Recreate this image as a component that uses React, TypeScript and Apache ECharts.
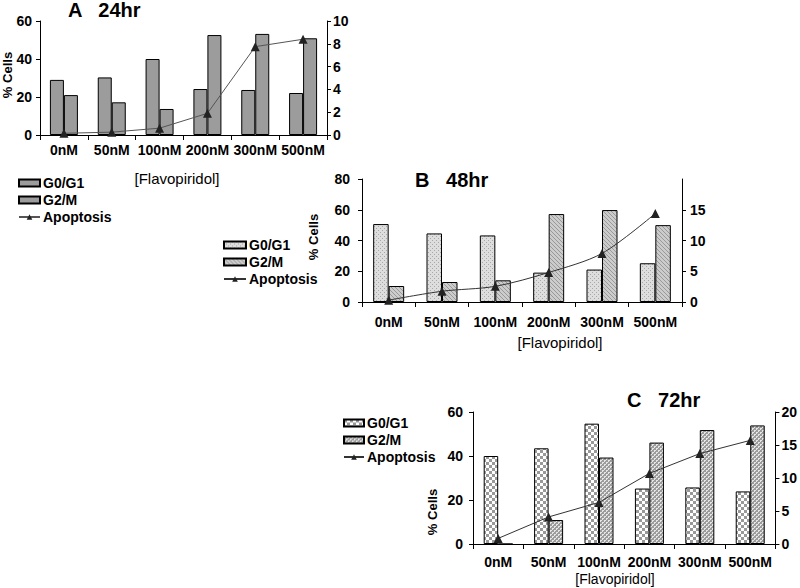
import React, { useEffect, useRef } from "react";
import * as echarts from "echarts";

const categories = ["0nM", "50nM", "100nM", "200nM", "300nM", "500nM"];

const aG0G1 = [29, 30.3, 40, 24.2, 23.7, 22.1];
const aG2M = [21, 17.2, 13.7, 52.6, 53.2, 50.9];
const aApoptosis = [0.15, 0.25, 0.6, 1.9, 7.75, 8.4];

const bG0G1 = [50.7, 44.6, 43.3, 19.1, 21.1, 25.2];
const bG2M = [10.4, 13, 14.1, 57.2, 59.8, 50];
const bApoptosis = [0.3, 1.75, 2.55, 4.8, 7.9, 14.4];

const cG0G1 = [40, 43.5, 54.7, 25.2, 25.7, 23.9];
const cG2M = [0, 10.9, 39.3, 46.1, 51.8, 53.9];
const cApoptosis = [0.85, 4.1, 6.3, 10.7, 13.7, 15.7];

const leftMax = [60, 80, 60];
const rightMax = [10, 20, 20];
const rightInterval = [2, 5, 5];
const leftInterval = 20;

const titles = ["A   24hr", "B   48hr", "C   72hr"];
const yName = "% Cells";
const xName = "[Flavopiridol]";

const FONT = "'Liberation Sans', Arial, sans-serif";

function makePattern(w: number, h: number, draw: (ctx: CanvasRenderingContext2D) => void) {
  const c = document.createElement("canvas");
  c.width = w;
  c.height = h;
  const ctx = c.getContext("2d") as CanvasRenderingContext2D;
  draw(ctx);
  return { image: c, repeat: "repeat", imageWidth: w, imageHeight: h } as any;
}

function px(ctx: CanvasRenderingContext2D, color: string, pts: number[][]) {
  ctx.fillStyle = color;
  pts.forEach(([x, y]) => ctx.fillRect(x, y, 1, 1));
}

export default function App() {
  const ref = useRef<HTMLDivElement>(null);

  useEffect(() => {
    if (!ref.current) return;
    const chart = echarts.init(ref.current, null, { renderer: "svg" });

    const bDots = makePattern(4, 4, (ctx) => {
      ctx.fillStyle = "#dedede";
      ctx.fillRect(0, 0, 4, 4);
      px(ctx, "#a8a8a8", [[0, 0], [2, 2]]);
    });
    const bDiag = makePattern(4, 4, (ctx) => {
      ctx.fillStyle = "#cccccc";
      ctx.fillRect(0, 0, 4, 4);
      px(ctx, "#999999", [[0, 0], [1, 1], [2, 2], [3, 3]]);
    });
    const cChecker = makePattern(6, 6, (ctx) => {
      ctx.fillStyle = "#ffffff";
      ctx.fillRect(0, 0, 6, 6);
      ctx.fillStyle = "#999999";
      ctx.fillRect(0, 0, 3, 3);
      ctx.fillRect(3, 3, 3, 3);
    });
    const cDots = makePattern(4, 4, (ctx) => {
      ctx.fillStyle = "#9c9c9c";
      ctx.fillRect(0, 0, 4, 4);
      px(ctx, "#e6e6e6", [[0, 0], [1, 0], [0, 1], [2, 2], [3, 2], [2, 3]]);
    });

    const grids = [
      { left: 40, top: 21, width: 287, height: 114 },
      { left: 362, top: 179, width: 320, height: 123 },
      { left: 473, top: 412, width: 303, height: 132 },
    ];
    const xLabelMargin = [8, 13, 11];
    const yLeftMargin = [8, 12, 10];
    const yRightMargin = [6, 8, 6];
    const barWidths = [14, 15.5, 14.5];
    const prefixes = ["A:", "B:", "C:"];
    const g0Data = [aG0G1, bG0G1, cG0G1];
    const g2Data = [aG2M, bG2M, cG2M];
    const apData = [aApoptosis, bApoptosis, cApoptosis];
    const g0Color: any[] = ["#9c9c9c", bDots, cChecker];
    const g2Color: any[] = ["#9c9c9c", bDiag, cDots];
    const lineColor = ["#555555", "#333333", "#333333"];

    const axisLine = { show: true, lineStyle: { color: "#000", width: 1 } };
    const labelStyle = { color: "#000", fontWeight: "bold" as const, fontSize: 14, fontFamily: FONT };

    const xAxis: any[] = [];
    const yAxis: any[] = [];
    const series: any[] = [];
    const legends: any[] = [];

    grids.forEach((g, i) => {
      xAxis.push({
        type: "category",
        gridIndex: i,
        data: categories,
        axisLine,
        axisTick: { show: true, length: 5, lineStyle: { color: "#000" } },
        axisLabel: { ...labelStyle, margin: xLabelMargin[i], interval: 0 },
        splitLine: { show: false },
      });
      yAxis.push({
        type: "value",
        gridIndex: i,
        position: "left",
        min: 0,
        max: leftMax[i],
        interval: leftInterval,
        axisLine,
        axisTick: { show: true, length: 4, lineStyle: { color: "#000" } },
        axisLabel: { ...labelStyle, margin: yLeftMargin[i] },
        splitLine: { show: false },
      });
      yAxis.push({
        type: "value",
        gridIndex: i,
        position: "right",
        min: 0,
        max: rightMax[i],
        interval: rightInterval[i],
        axisLine,
        axisTick: { show: true, length: 4, lineStyle: { color: "#000" } },
        axisLabel: { ...labelStyle, margin: yRightMargin[i], showMaxLabel: i !== 1 },
        splitLine: { show: false },
      });
      const p = prefixes[i];
      series.push({
        type: "bar",
        name: p + "G0/G1",
        xAxisIndex: i,
        yAxisIndex: i * 2,
        data: g0Data[i],
        barWidth: barWidths[i],
        barGap: "0%",
        itemStyle: { color: g0Color[i], borderColor: "#000", borderWidth: 1 },
      });
      series.push({
        type: "bar",
        name: p + "G2/M",
        xAxisIndex: i,
        yAxisIndex: i * 2,
        data: g2Data[i],
        barWidth: barWidths[i],
        barGap: "0%",
        itemStyle: { color: g2Color[i], borderColor: "#000", borderWidth: 1 },
      });
      series.push({
        type: "line",
        name: p + "Apoptosis",
        xAxisIndex: i,
        yAxisIndex: i * 2 + 1,
        data: apData[i],
        smooth: i === 1 ? 0.3 : false,
        symbol: "triangle",
        symbolSize: 9,
        z: 5,
        itemStyle: { color: "#222" },
        lineStyle: { color: lineColor[i], width: 1 },
      });
    });

    const legendPos = [
      { left: 18, top: 176, w: 21 },
      { left: 223, top: 238, w: 22 },
      { left: 343, top: 416, w: 20 },
    ];
    legendPos.forEach((lp, i) => {
      const p = prefixes[i];
      legends.push({
        left: lp.left,
        top: lp.top,
        orient: "vertical",
        padding: 0,
        itemWidth: lp.w,
        itemHeight: 7,
        itemGap: 3,
        selectedMode: false,
        data: [
          { name: p + "G0/G1", icon: "rect" },
          { name: p + "G2/M", icon: "rect" },
          { name: p + "Apoptosis" },
        ],
        formatter: (n: string) => n.slice(2),
        textStyle: { fontSize: 14, fontWeight: "bold", lineHeight: 14, color: "#000", fontFamily: FONT, padding: [0, 0, 0, -2] },
      });
    });

    const titlePos = [
      [68, 10],
      [415, 180],
      [627, 400],
    ];
    const yNamePos = [
      [7, 75],
      [313, 237],
      [432, 512],
    ];
    const xNamePos = [
      [177, 178],
      [560, 342],
      [615, 579],
    ];
    const graphic: any[] = [];
    for (let i = 0; i < 3; i++) {
      graphic.push({
        type: "text",
        x: titlePos[i][0],
        y: titlePos[i][1],
        style: { text: titles[i], font: `bold 20px ${FONT}`, fill: "#000", align: "left", verticalAlign: "middle" },
      });
      graphic.push({
        type: "text",
        x: yNamePos[i][0],
        y: yNamePos[i][1],
        rotation: Math.PI / 2,
        style: { text: yName, font: `bold 13px ${FONT}`, fill: "#000", align: "center", verticalAlign: "middle" },
      });
      graphic.push({
        type: "text",
        x: xNamePos[i][0],
        y: xNamePos[i][1],
        style: { text: xName, font: `${i === 2 ? 14 : 15}px ${FONT}`, fill: "#000", align: "center", verticalAlign: "middle" },
      });
    }

    chart.setOption({
      animation: false,
      backgroundColor: "#fff",
      textStyle: { fontFamily: FONT },
      grid: grids,
      xAxis,
      yAxis,
      series,
      legend: legends,
      graphic,
    });

    return () => chart.dispose();
  }, []);

  return (
    <div
      ref={ref}
      style={{ position: "absolute", left: 0, top: 0, width: 800, height: 588 }}
    />
  );
}
